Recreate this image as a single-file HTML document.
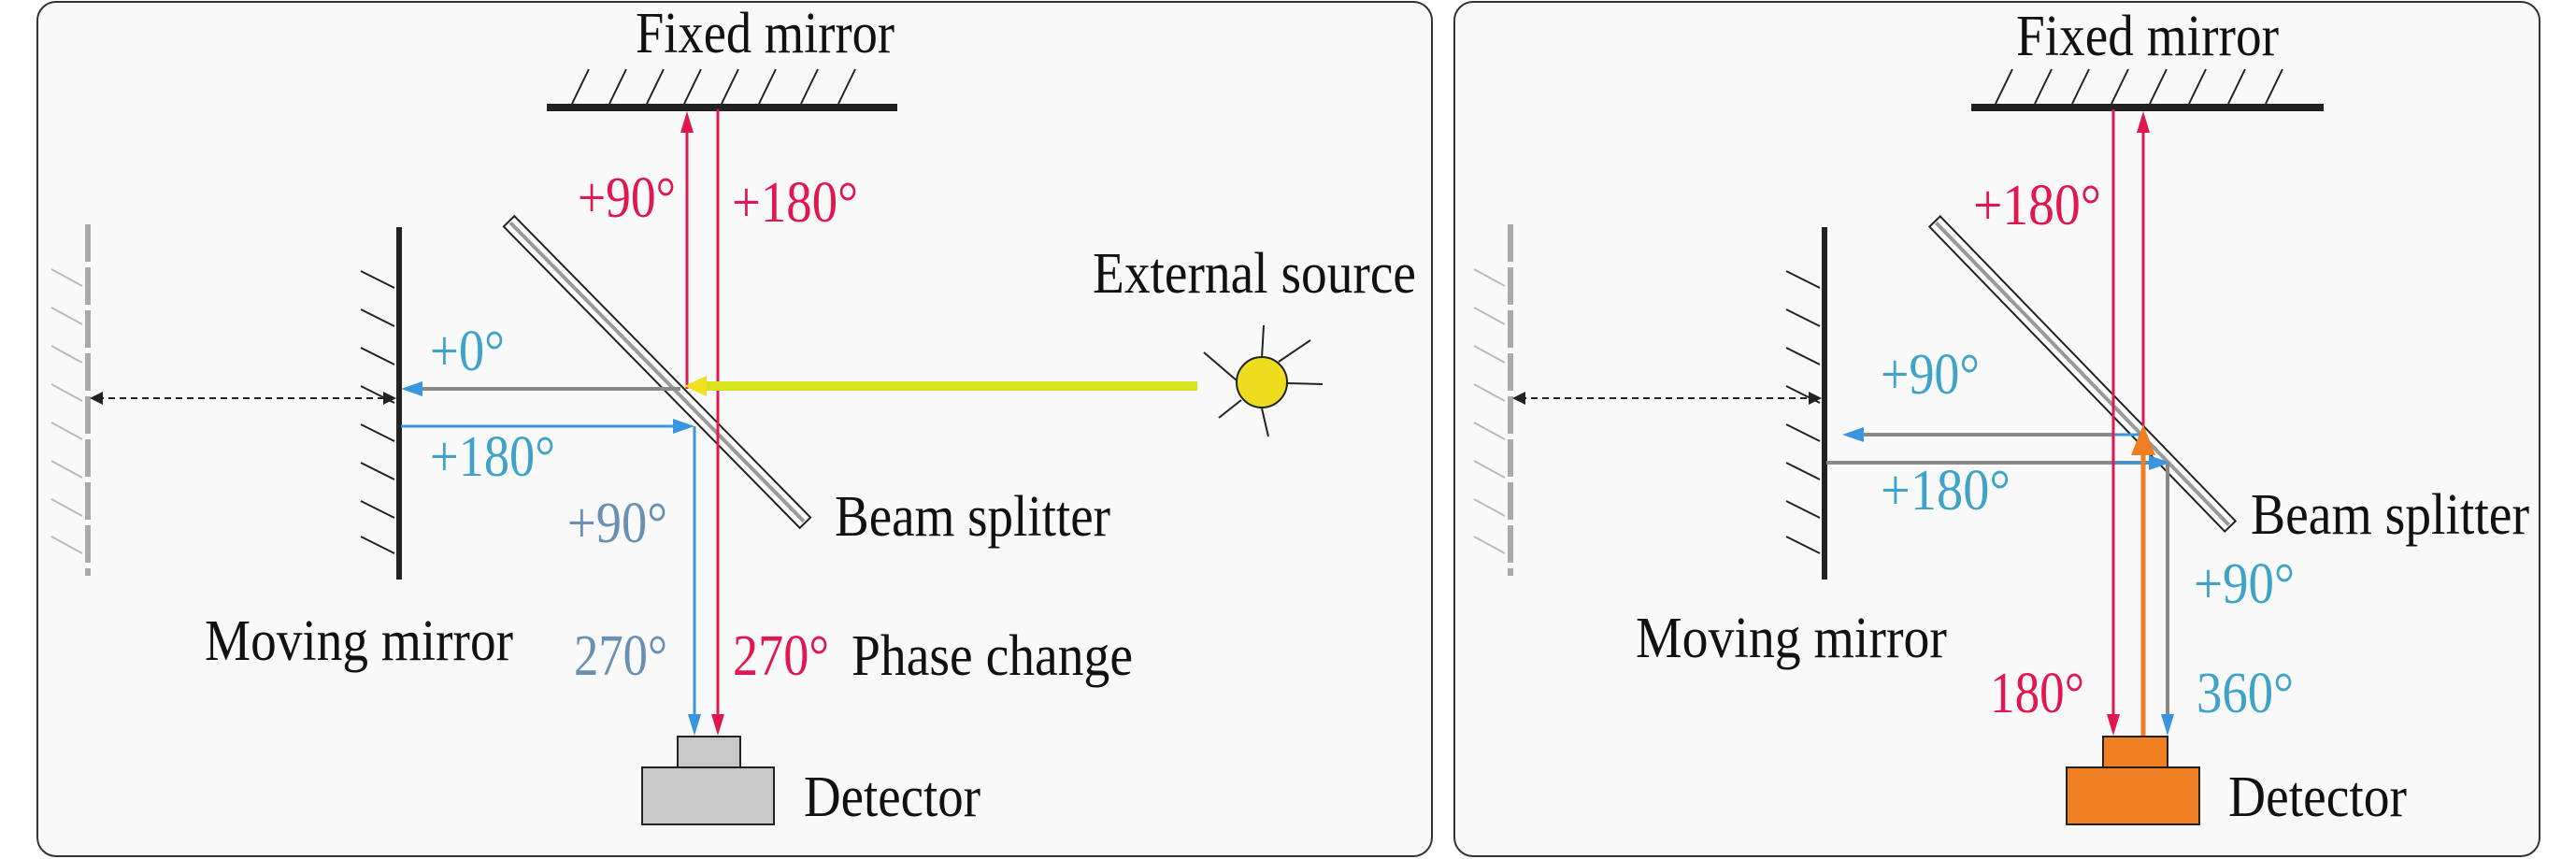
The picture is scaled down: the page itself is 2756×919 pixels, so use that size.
<!DOCTYPE html>
<html><head><meta charset="utf-8"><style>
html,body{margin:0;padding:0;background:#fff;}
svg{display:block;}
text{font-family:"Liberation Serif",serif;font-size:62px;}
</style></head><body>
<svg width="2756" height="919" viewBox="0 0 2756 919" xmlns="http://www.w3.org/2000/svg">
<rect x="0" y="0" width="2756" height="919" fill="#fff"/>
<rect x="40" y="2" width="1492" height="914" rx="20" fill="#f9f9f9" stroke="#333" stroke-width="2"/>
<rect x="1556" y="2" width="1161" height="914" rx="20" fill="#f9f9f9" stroke="#333" stroke-width="2"/>

<!-- ================= LEFT PANEL ================= -->
<text x="680" y="56" textLength="277" lengthAdjust="spacingAndGlyphs" fill="#111">Fixed mirror</text>
<rect x="585" y="111" width="375" height="8" fill="#222"/>
<g stroke="#222" stroke-width="2">
<line x1="612" y1="111" x2="630" y2="74"/><line x1="652" y1="111" x2="670" y2="74"/>
<line x1="692" y1="111" x2="710" y2="74"/><line x1="732" y1="111" x2="750" y2="74"/>
<line x1="772" y1="111" x2="790" y2="74"/><line x1="812" y1="111" x2="830" y2="74"/>
<line x1="857" y1="111" x2="875" y2="74"/><line x1="897" y1="111" x2="915" y2="74"/>
</g>
<line x1="94" y1="240" x2="94" y2="616" stroke="#aaa" stroke-width="6" stroke-dasharray="40,6"/>
<g stroke="#bbb" stroke-width="2">
<line x1="55" y1="288" x2="88" y2="306"/><line x1="55" y1="329" x2="88" y2="347"/>
<line x1="55" y1="370" x2="88" y2="388"/><line x1="55" y1="411" x2="88" y2="429"/>
<line x1="55" y1="452" x2="88" y2="470"/><line x1="55" y1="493" x2="88" y2="511"/>
<line x1="55" y1="534" x2="88" y2="552"/><line x1="55" y1="574" x2="88" y2="592"/>
</g>
<line x1="427" y1="243" x2="427" y2="620" stroke="#222" stroke-width="6"/>
<g stroke="#222" stroke-width="2">
<line x1="386" y1="290" x2="422" y2="308"/><line x1="386" y1="331" x2="422" y2="349"/>
<line x1="386" y1="372" x2="422" y2="390"/><line x1="386" y1="413" x2="422" y2="431"/>
<line x1="386" y1="454" x2="422" y2="472"/><line x1="386" y1="495" x2="422" y2="513"/>
<line x1="386" y1="536" x2="422" y2="554"/><line x1="386" y1="574" x2="422" y2="592"/>
</g>
<line x1="104" y1="426" x2="416" y2="426" stroke="#222" stroke-width="2" stroke-dasharray="7,5"/>
<polygon points="96,426 110,419 110,433" fill="#222"/>
<polygon points="424,426 410,419 410,433" fill="#222"/>
<g transform="translate(703,398) rotate(45.5)">
<rect x="-226" y="-8" width="452" height="16" fill="#fff" stroke="#222" stroke-width="2"/>
<line x1="-224" y1="0" x2="224" y2="0" stroke="#999" stroke-width="4"/>
</g>
<line x1="735" y1="416" x2="735" y2="140" stroke="#e0184f" stroke-width="3"/>
<polygon points="735,119 728,142 742,142" fill="#e0184f"/>
<line x1="768" y1="117" x2="768" y2="766" stroke="#e0184f" stroke-width="3"/>
<polygon points="768,787 761,764 775,764" fill="#e0184f"/>
<line x1="445" y1="416" x2="728" y2="416" stroke="#888" stroke-width="4"/>
<polygon points="429,416 452,408 452,424" fill="#3a95e0"/>
<line x1="750" y1="413" x2="1281" y2="413" stroke="#d6e21e" stroke-width="10"/>
<polygon points="732,413 756,402 756,424" fill="#f0e020"/>
<line x1="429" y1="456" x2="722" y2="456" stroke="#3a95e0" stroke-width="3"/>
<polygon points="743,456 720,448 720,464" fill="#3a95e0"/>
<line x1="743" y1="456" x2="743" y2="766" stroke="#3a95e0" stroke-width="3"/>
<polygon points="743,787 736,764 750,764" fill="#3a95e0"/>
<g stroke="#222" stroke-width="2">
<line x1="1350" y1="383" x2="1352" y2="348"/><line x1="1368" y1="387" x2="1402" y2="364"/>
<line x1="1377" y1="410" x2="1415" y2="411"/><line x1="1350" y1="437" x2="1357" y2="467"/>
<line x1="1328" y1="428" x2="1304" y2="447"/><line x1="1323" y1="407" x2="1288" y2="377"/>
</g>
<circle cx="1350" cy="409" r="27" fill="#eedc1e" stroke="#222" stroke-width="2"/>
<text x="618" y="232" textLength="105" lengthAdjust="spacingAndGlyphs" fill="#e0184f">+90°</text>
<text x="783" y="237" textLength="135" lengthAdjust="spacingAndGlyphs" fill="#e0184f">+180°</text>
<text x="1169" y="313" textLength="346" lengthAdjust="spacingAndGlyphs" fill="#111">External source</text>
<text x="460" y="396" textLength="80" lengthAdjust="spacingAndGlyphs" fill="#3fa3c8">+0°</text>
<text x="460" y="509" textLength="134" lengthAdjust="spacingAndGlyphs" fill="#3fa3c8">+180°</text>
<text x="607" y="580" textLength="107" lengthAdjust="spacingAndGlyphs" fill="#6a8fb0">+90°</text>
<text x="893" y="573" textLength="295" lengthAdjust="spacingAndGlyphs" fill="#111">Beam splitter</text>
<text x="219" y="706" textLength="330" lengthAdjust="spacingAndGlyphs" fill="#111">Moving mirror</text>
<text x="614" y="722" textLength="100" lengthAdjust="spacingAndGlyphs" fill="#6a8fb0">270°</text>
<text x="784" y="722" textLength="103" lengthAdjust="spacingAndGlyphs" fill="#e0184f">270°</text>
<text x="911" y="722" textLength="301" lengthAdjust="spacingAndGlyphs" fill="#111">Phase change</text>
<rect x="725" y="788" width="67" height="33" fill="#c8c8c8" stroke="#222" stroke-width="2"/>
<rect x="687" y="821" width="141" height="61" fill="#c8c8c8" stroke="#222" stroke-width="2"/>
<text x="860" y="873" textLength="189" lengthAdjust="spacingAndGlyphs" fill="#111">Detector</text>

<!-- ================= RIGHT PANEL ================= -->
<text x="2157" y="59" textLength="281" lengthAdjust="spacingAndGlyphs" fill="#111">Fixed mirror</text>
<rect x="2109" y="111" width="377" height="8" fill="#222"/>
<g stroke="#222" stroke-width="2">
<line x1="2135" y1="111" x2="2153" y2="74"/><line x1="2177" y1="111" x2="2195" y2="74"/>
<line x1="2217" y1="111" x2="2235" y2="74"/><line x1="2259" y1="111" x2="2277" y2="74"/>
<line x1="2300" y1="111" x2="2318" y2="74"/><line x1="2342" y1="111" x2="2360" y2="74"/>
<line x1="2384" y1="111" x2="2402" y2="74"/><line x1="2424" y1="111" x2="2442" y2="74"/>
</g>
<line x1="1616" y1="240" x2="1616" y2="616" stroke="#aaa" stroke-width="6" stroke-dasharray="40,6"/>
<g stroke="#bbb" stroke-width="2">
<line x1="1577" y1="288" x2="1610" y2="306"/><line x1="1577" y1="329" x2="1610" y2="347"/>
<line x1="1577" y1="370" x2="1610" y2="388"/><line x1="1577" y1="411" x2="1610" y2="429"/>
<line x1="1577" y1="452" x2="1610" y2="470"/><line x1="1577" y1="493" x2="1610" y2="511"/>
<line x1="1577" y1="534" x2="1610" y2="552"/><line x1="1577" y1="574" x2="1610" y2="592"/>
</g>
<line x1="1952" y1="243" x2="1952" y2="620" stroke="#222" stroke-width="6"/>
<g stroke="#222" stroke-width="2">
<line x1="1911" y1="290" x2="1947" y2="308"/><line x1="1911" y1="331" x2="1947" y2="349"/>
<line x1="1911" y1="372" x2="1947" y2="390"/><line x1="1911" y1="413" x2="1947" y2="431"/>
<line x1="1911" y1="454" x2="1947" y2="472"/><line x1="1911" y1="495" x2="1947" y2="513"/>
<line x1="1911" y1="536" x2="1947" y2="554"/><line x1="1911" y1="574" x2="1947" y2="592"/>
</g>
<line x1="1626" y1="426" x2="1941" y2="426" stroke="#222" stroke-width="2" stroke-dasharray="7,5"/>
<polygon points="1618,426 1632,419 1632,433" fill="#222"/>
<polygon points="1949,426 1935,419 1935,433" fill="#222"/>
<g transform="translate(2228,400) rotate(45.9)">
<rect x="-227" y="-8" width="454" height="16" fill="#fff" stroke="#222" stroke-width="2"/>
<line x1="-225" y1="0" x2="225" y2="0" stroke="#999" stroke-width="4"/>
</g>
<line x1="1988" y1="465" x2="2261" y2="465" stroke="#888" stroke-width="4"/>
<line x1="2261" y1="465" x2="2290" y2="465" stroke="#3a95e0" stroke-width="3"/>
<polygon points="1971,465 1994,457 1994,473" fill="#3a95e0"/>
<line x1="1954" y1="495" x2="2300" y2="495" stroke="#888" stroke-width="4"/>
<line x1="2261" y1="495" x2="2300" y2="495" stroke="#3a95e0" stroke-width="3"/>
<polygon points="2322,495 2299,487 2299,503" fill="#3a95e0"/>
<line x1="2319" y1="495" x2="2319" y2="766" stroke="#888" stroke-width="4"/>
<polygon points="2319,787 2312,764 2326,764" fill="#3a95e0"/>
<line x1="2261" y1="117" x2="2261" y2="766" stroke="#e0184f" stroke-width="3"/>
<polygon points="2261,787 2254,764 2268,764" fill="#e0184f"/>
<line x1="2293" y1="455" x2="2293" y2="140" stroke="#e0184f" stroke-width="3"/>
<polygon points="2293,119 2286,142 2300,142" fill="#e0184f"/>
<line x1="2293" y1="480" x2="2293" y2="788" stroke="#f07f24" stroke-width="5"/>
<polygon points="2293,454 2280,487 2306,487" fill="#f07f24"/>
<text x="2111" y="240" textLength="137" lengthAdjust="spacingAndGlyphs" fill="#e0184f">+180°</text>
<text x="2012" y="421" textLength="106" lengthAdjust="spacingAndGlyphs" fill="#3fa3c8">+90°</text>
<text x="2012" y="545" textLength="139" lengthAdjust="spacingAndGlyphs" fill="#3fa3c8">+180°</text>
<text x="2408" y="571" textLength="298" lengthAdjust="spacingAndGlyphs" fill="#111">Beam splitter</text>
<text x="2347" y="645" textLength="108" lengthAdjust="spacingAndGlyphs" fill="#3fa3c8">+90°</text>
<text x="1750" y="703" textLength="333" lengthAdjust="spacingAndGlyphs" fill="#111">Moving mirror</text>
<text x="2129" y="762" textLength="101" lengthAdjust="spacingAndGlyphs" fill="#e0184f">180°</text>
<text x="2350" y="762" textLength="104" lengthAdjust="spacingAndGlyphs" fill="#3fa3c8">360°</text>
<rect x="2250" y="788" width="69" height="33" fill="#f07f24" stroke="#222" stroke-width="2"/>
<rect x="2211" y="821" width="142" height="61" fill="#f07f24" stroke="#222" stroke-width="2"/>
<text x="2384" y="873" textLength="191" lengthAdjust="spacingAndGlyphs" fill="#111">Detector</text>
</svg>
</body></html>
